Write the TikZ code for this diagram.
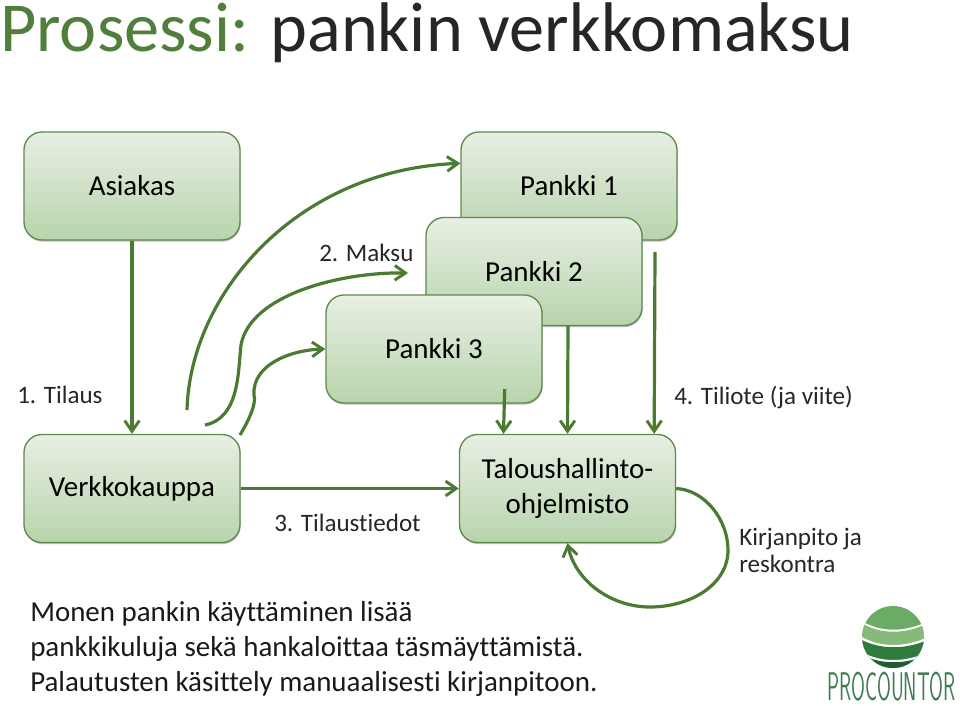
\documentclass[tikz,border=0pt]{standalone}
\usepackage{fontspec}
\setmainfont{Carlito}[Ligatures=NoCommon]
\usepackage{xcolor}
\usetikzlibrary{arrows.meta, shadows}
\definecolor{boxtop}{HTML}{E8EFE4}
\definecolor{boxbottom}{HTML}{B8D4AC}
\definecolor{boxedge}{HTML}{5F8A4C}
\definecolor{flowgreen}{HTML}{4B7A32}
\definecolor{titlegreen}{HTML}{4F7F3A}
\definecolor{logotext}{HTML}{3F7D50}
\definecolor{logoband}{HTML}{6AAB66}
\definecolor{logolight}{HTML}{86BA78}
\definecolor{logomid}{HTML}{2F7B3E}
\definecolor{logodark}{HTML}{1F5C2E}
\tikzset{
  stagebox/.style={draw=boxedge, line width=1pt, rounded corners=13.5pt, top color=boxtop, bottom color=boxbottom,
    minimum width=162pt, minimum height=81pt, align=center, font=\fontsize{21.7}{26}\selectfont, text=black,
    drop shadow={shadow xshift=0.5pt, shadow yshift=-1.2pt, fill=black, opacity=0.25}},
  flow/.style={draw=flowgreen, line width=2.4pt, -{Straight Barb[length=8pt, width=11pt, line width=2.2pt]}},
  steplabel/.style={font=\fontsize{18.8}{20.2}\selectfont, anchor=base west, text=black!85, inner sep=0pt},
  logocut/.style={fill=white}
}

\begin{document}
\begin{tikzpicture}[x=0.75pt, y=-0.75pt]
  \useasboundingbox (0,0) rectangle (960,706);

  % Title
  \node[font=\fontsize{52.7}{56}\selectfont, anchor=base west, inner sep=0pt] (title) at (0,52) {\textcolor{titlegreen}{Prosessi:} \textcolor{black!85}{pankin verkkomaksu}};

  % Boxes
  \node[stagebox] (asiakas) at (132,186) {Asiakas};
  \node[stagebox] (pankki1) at (569,186) {Pankki 1};
  \node[stagebox] (pankki2) at (534,271.5) {Pankki 2};
  \node[stagebox] (pankki3) at (434,349) {Pankki 3};
  \node[stagebox] (verkkokauppa) at (132,488.5) {Verkkokauppa};
  \node[stagebox] (talous) at (567.5,488.5) {Talous\-hallinto-\\ohjelmisto};

  % Free ends
  \coordinate (maksu1) at (187,410);
  \coordinate (maksu2) at (205,425);
  \coordinate (maksu3) at (240,435);
  \coordinate (tiliote) at (655,252);
  \coordinate (pankki2in) at (408,273);

  % Arrows
  \draw[flow] (asiakas) -- (verkkokauppa);
  \draw[flow] (maksu1) .. controls (190,295) and (295,170) .. ([yshift=17pt]pankki1.west);
  \draw[flow] (maksu2) .. controls (240,418) and (238,370) .. (241,345) .. controls (250,295) and (340,272) .. (pankki2in);
  \draw[flow] (maksu3) .. controls (246,425) and (257,405) .. (254,395) .. controls (252,365) and (290,350) .. (pankki3.west);
  \draw[flow] (verkkokauppa) -- (talous);
  \draw[flow] ([xshift=53pt,yshift=11pt]pankki3.south) -- ([xshift=-48pt]talous.north);
  \draw[flow] ([xshift=25.5pt]pankki2.south) -- (talous.north);
  \draw[flow] (tiliote) -- ([xshift=65pt]talous.north);
  \draw[flow] (talous.east) .. controls (705,490) and (728,520) .. (728,550) .. controls (728,585) and (690,607) .. (650,607) .. controls (610,607) and (575,580) .. (talous.south);

  % Labels
  \node[steplabel] (tilaus) at (17,403) {1. Tilaus};
  \node[steplabel] (maksu) at (319,261) {2. Maksu};
  \node[steplabel] (tilaustiedot) at (274,531) {3. Tilaustiedot};
  \node[steplabel] (viite) at (674,404) {4. Tiliote (ja viite)};
  \node[steplabel, align=left, anchor=north west] (kirjanpito) at (739,528) {Kirjanpito ja\\reskontra};

  % Bottom text
  \node[font=\fontsize{21.7}{26.2}\selectfont, align=left, anchor=north west, inner sep=0pt, text=black!90] (huomio) at (30,601) {Monen pankin käyttäminen lisää\\pankkikuluja sekä hankaloittaa täsmäyttämistä.\\Palautusten käsittely manuaalisesti kirjanpitoon.};

  % Logo
  \begin{scope}
    \clip (893,637) circle (31);
    \fill[logoband] (860,600) rectangle (930,680);
    \fill[logocut] (860,620) .. controls (880,633) and (906,633) .. (930,620) -- (930,680) -- (860,680) -- cycle;
    \fill[logolight] (860,622) .. controls (880,635) and (906,635) .. (930,622) -- (930,680) -- (860,680) -- cycle;
    \fill[logocut] (860,636) .. controls (880,648) and (906,648) .. (930,636) -- (930,680) -- (860,680) -- cycle;
    \fill[logomid] (860,639) .. controls (880,650) and (906,650) .. (930,639) -- (930,680) -- (860,680) -- cycle;
    \fill[logocut] (860,651) .. controls (880,663) and (906,663) .. (930,651) -- (930,680) -- (860,680) -- cycle;
    \fill[logodark] (860,654) .. controls (880,665) and (906,665) .. (930,654) -- (930,680) -- (860,680) -- cycle;
  \end{scope}
  \node[font=\fontsize{30}{32}\selectfont\sffamily, text=logotext, anchor=base west, inner sep=0pt, xscale=0.5] (procountor) at (827,700) {PROCOUNTOR};
\end{tikzpicture}
\end{document}
